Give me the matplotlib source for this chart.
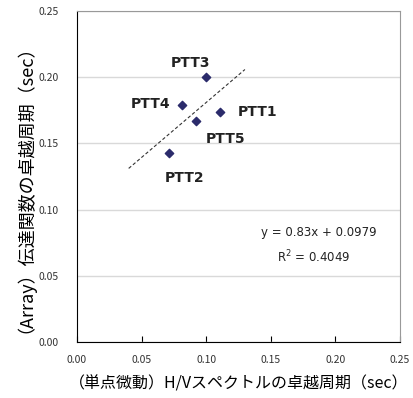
import numpy as np
import matplotlib
matplotlib.use('Agg')
import matplotlib.pyplot as plt

plt.rcParams['font.family'] = ['Noto Sans CJK JP', 'DejaVu Sans']

# 観測点データ
labels = ['PTT1', 'PTT2', 'PTT3', 'PTT4', 'PTT5']
hv_period = [0.111, 0.071, 0.100, 0.081, 0.092]
array_period = [0.174, 0.143, 0.200, 0.179, 0.167]
label_pos = [(0.140, 0.174), (0.083, 0.124), (0.088, 0.211), (0.057, 0.180), (0.115, 0.153)]

slope = 0.83
intercept = 0.0979
r2 = 0.4049
fit_range = [0.04, 0.13]

ticks = [0.00, 0.05, 0.10, 0.15, 0.20, 0.25]

fig = plt.figure(figsize=(4.14, 3.98), dpi=100)
ax = fig.add_axes([0.186, 0.1407, 0.780, 0.8317])

ax.set_xlim(0, 0.25)
ax.set_ylim(0, 0.25)
ax.set_xticks(ticks)
ax.set_yticks(ticks)
ax.set_xticklabels(['%.2f' % t for t in ticks], fontsize=7.5, color='#333333')
ax.set_yticklabels(['%.2f' % t for t in ticks], fontsize=7.5, color='#333333')
ax.tick_params(axis='x', direction='in', length=4, pad=9)
ax.tick_params(axis='y', length=0, pad=13)
ax.grid(axis='y', color='#d9d9d9', linewidth=1)
ax.set_axisbelow(True)

for s in ['top', 'right']:
    ax.spines[s].set_color('#999999')
for s in ['left', 'bottom']:
    ax.spines[s].set_color('black')

# 近似直線
fx = np.array(fit_range)
ax.plot(fx, slope * fx + intercept, linestyle=(0, (3, 2)), color='#333333', linewidth=0.8)

ax.scatter(hv_period, array_period, marker='D', s=18, color='#2b2b6b', zorder=3)

for name, (lx, ly) in zip(labels, label_pos):
    ax.text(lx, ly, name, fontsize=10, fontweight='bold', color='#222222',
            ha='center', va='center', family=['DejaVu Sans'])

ax.text(0.187, 0.083, 'y = 0.83x + 0.0979', fontsize=8.5, ha='center', va='center',
        color='#222222', family=['DejaVu Sans'])
ax.text(0.183, 0.064, 'R$^{2}$ = %.4f' % r2, fontsize=8.5, ha='center', va='center',
        color='#222222', family=['DejaVu Sans'])

ax.set_xlabel('（単点微動）H/Vスペクトルの卓越周期（sec）', fontsize=11.5, labelpad=8)
ax.set_ylabel('（Array）伝達関数の卓越周期（sec）', fontsize=13)
ax.yaxis.set_label_coords(-0.16, 0.49)

fig.savefig('out.png', dpi=100)
